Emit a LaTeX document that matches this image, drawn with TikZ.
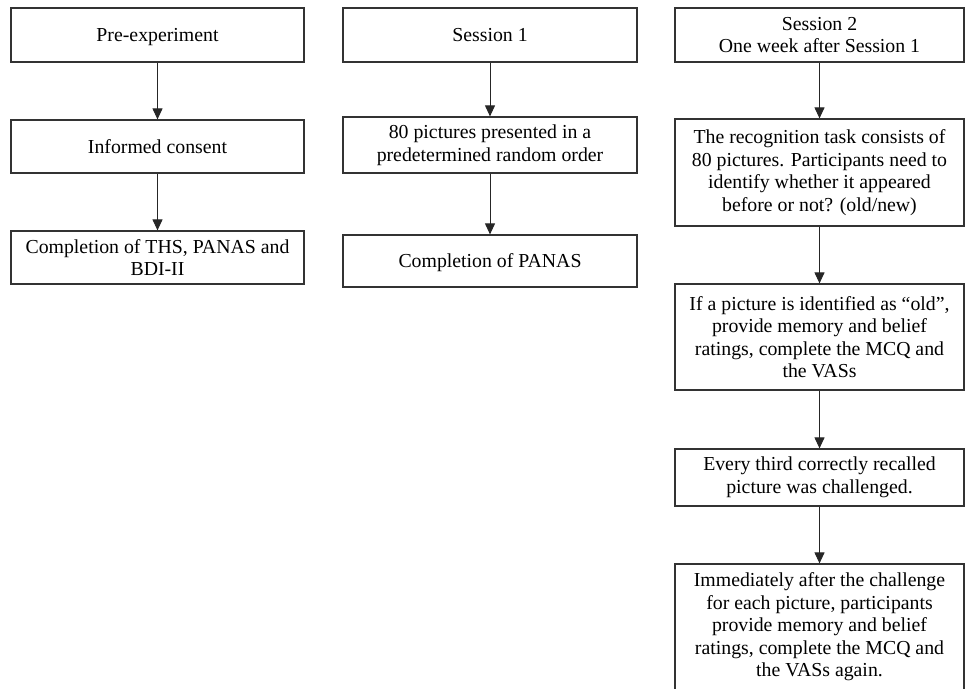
\documentclass[tikz,border=0pt]{standalone}
\usepackage{fontspec}
\setmainfont{Liberation Serif}
\usetikzlibrary{arrows.meta}
\begin{document}
\begin{tikzpicture}[x=1pt,y=-1pt,
  box/.style={draw=black!80, line width=1.2pt, align=center, inner sep=0pt,
    font=\fontsize{19.8}{22.5}\selectfont, text=black, fill=white},
  oneline/.style={text height=13pt, text depth=0pt},
  colA/.style={box, minimum width=293pt},
  colB/.style={box, minimum width=294pt},
  colC/.style={box, minimum width=289pt},
  arr/.style={-{Triangle[width=10pt,length=11pt]}, line width=1pt, draw=black!85}]
\useasboundingbox (0,0) rectangle (965,688);
\clip (0,0) rectangle (965,688);
% column 1
\node[colA, oneline, minimum height=54pt] (p1) at (157.5,35) {Pre-experiment};
\node[colA, oneline, minimum height=53pt] (p2) at (157.5,146.5) {Informed consent};
\node[colA, minimum height=53pt] (p3) at (157.5,257.5) {Completion of THS, PANAS and\\BDI-II};
% column 2
\node[colB, oneline, minimum height=54pt] (s1) at (490,35) {Session 1};
\node[colB, minimum height=56pt] (s2) at (490,145) {80 pictures presented in a\\predetermined random order};
\node[colB, oneline, minimum height=52pt] (s3) at (490,261) {Completion of PANAS};
% column 3
\node[colC, minimum height=54pt] (t1) at (819.5,35) {Session 2\\One week after Session 1};
\node[colC, minimum height=107pt] (t2) at (819.5,172.5) {The recognition task consists of\\80 pictures. Participants need to\\identify whether it appeared\\before or not? (old/new)};
\node[colC, minimum height=106pt] (t3) at (819.5,337) {If a picture is identified as “old”,\\provide memory and belief\\ratings, complete the MCQ and\\the VASs};
\node[colC, minimum height=57pt] (t4) at (819.5,477.5) {Every third correctly recalled\\picture was challenged.};
\node[colC, minimum height=126pt] (t5) at (819.5,627) {Immediately after the challenge\\for each picture, participants\\provide memory and belief\\ratings, complete the MCQ and\\the VASs again.};
% arrows
\draw[arr] (p1.south) -- (p2.north);
\draw[arr] (p2.south) -- (p3.north);
\draw[arr] (s1.south) -- (s2.north);
\draw[arr] (s2.south) -- (s3.north);
\draw[arr] (t1.south) -- (t2.north);
\draw[arr] (t2.south) -- (t3.north);
\draw[arr] (t3.south) -- (t4.north);
\draw[arr] (t4.south) -- (t5.north);
\end{tikzpicture}
\end{document}
